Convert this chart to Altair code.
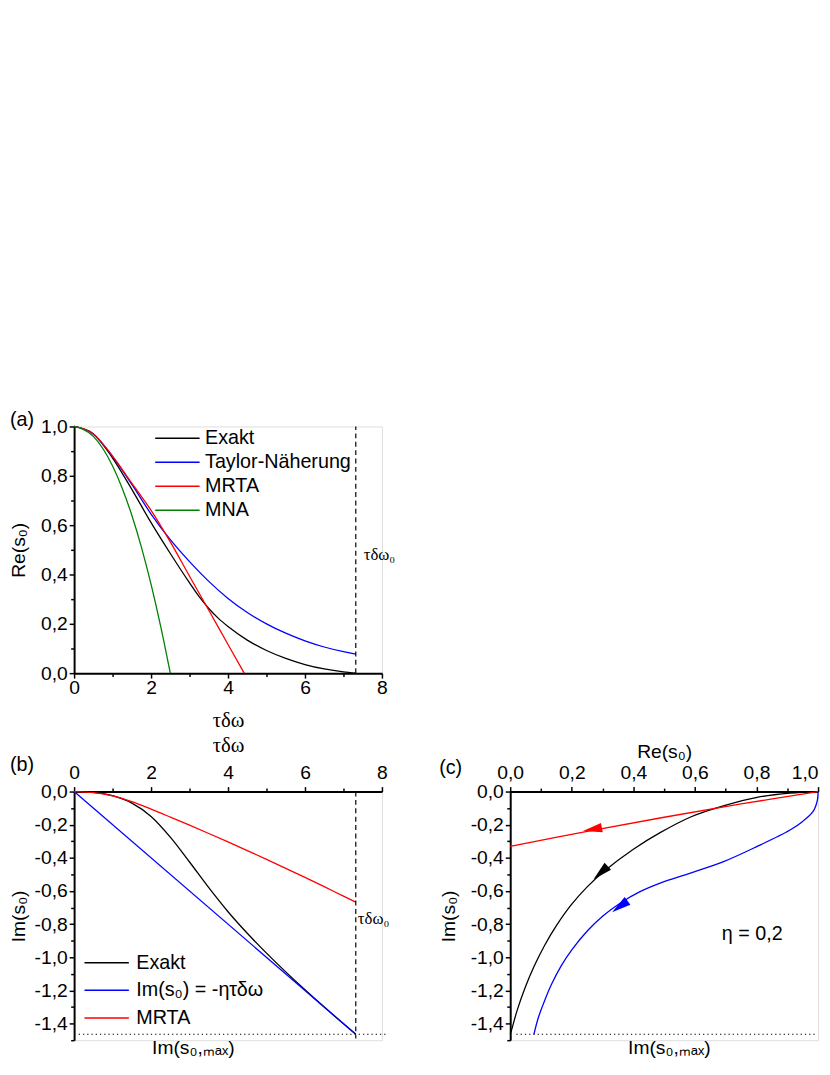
import math
import altair as alt
import pandas as pd

# ---------------- data ----------------
# Panel (a): Re(s0) versus tau*delta*omega
TDW = [0.0, 0.5, 1.0, 1.5, 2.0, 2.5, 3.0, 3.5, 4.0, 4.5, 5.0, 5.5, 6.0, 6.5, 7.0, 7.32]
TDW_EX = [0.0, 0.5, 1.0, 1.5, 2.0, 2.5, 3.0, 3.25, 3.5, 3.75, 4.0, 4.5, 5.0, 5.5, 6.0, 6.5, 7.0, 7.32]
RE_EXAKT = [1.0, 0.97, 0.872, 0.745, 0.61, 0.485, 0.366, 0.31, 0.262, 0.222, 0.189, 0.134, 0.092, 0.06, 0.035, 0.017, 0.005, 0.0]
RE_TAYLOR = [1.0, 0.97, 0.878, 0.765, 0.645, 0.541, 0.452, 0.372, 0.303, 0.246, 0.2, 0.162, 0.131, 0.106, 0.087, 0.077]
TDW_MRTA = [0.0, 0.5, 1.0, 1.5, 2.0, 2.5, 3.0, 3.5, 4.0, 4.42]
RE_MRTA = [1.0, 0.97, 0.88, 0.77, 0.66, 0.532, 0.393, 0.255, 0.116, 0.0]
TDW_MNA = [0.0, 0.5, 1.0, 1.25, 1.5, 1.75, 2.0, 2.25, 2.5]
RE_MNA = [1.0, 0.96, 0.84, 0.75, 0.64, 0.51, 0.36, 0.19, 0.0]
A_SERIES = ["Exakt", "Taylor-Näherung", "MRTA", "MNA"]
A_COLORS = ["#000000", "#0000ff", "#ff0000", "#008000"]

# Panel (b): Im(s0) versus tau*delta*omega
IM_EXAKT = [0.0, -0.005, -0.025, -0.07, -0.15, -0.275, -0.425, -0.58, -0.725, -0.855, -0.975, -1.088, -1.196, -1.3, -1.401, -1.464]
TDW_LIN = [0.0, 7.32]
IM_LIN = [0.0, -1.464]
IM_MRTA = [0.0, -0.006, -0.026, -0.061, -0.106, -0.154, -0.203, -0.253, -0.304, -0.356, -0.409, -0.463, -0.518, -0.574, -0.631, -0.667]
B_SERIES = ["Exakt", "Im(s₀) = -ητδω", "MRTA"]
B_COLORS = ["#000000", "#0000ff", "#ff0000"]

# Panel (c): Im(s0) versus Re(s0)
C_EXAKT_RE = [1.0, 0.909, 0.802, 0.695, 0.588, 0.487, 0.4, 0.305, 0.25, 0.198, 0.15, 0.112, 0.078, 0.048, 0.022, 0.005, 0.0]
C_EXAKT_IM = [0.0, -0.01, -0.035, -0.085, -0.152, -0.248, -0.348, -0.481, -0.575, -0.684, -0.809, -0.927, -1.053, -1.185, -1.323, -1.434, -1.464]
C_TAYLOR_RE = [1.0, 0.998, 0.984, 0.95, 0.909, 0.802, 0.695, 0.588, 0.487, 0.42, 0.358, 0.3, 0.251, 0.2, 0.166, 0.135, 0.112, 0.092, 0.077]
C_TAYLOR_IM = [0.0, -0.05, -0.12, -0.18, -0.232, -0.331, -0.421, -0.49, -0.552, -0.605, -0.672, -0.752, -0.84, -0.955, -1.05, -1.16, -1.26, -1.36, -1.464]
C_MRTA_RE = [1.0, 0.75, 0.5, 0.25, 0.0]
C_MRTA_IM = [0.0, -0.075, -0.155, -0.24, -0.331]
C_SERIES = ["Exakt", "Taylor", "MRTA"]
C_COLORS = ["#000000", "#0000ff", "#ff0000"]
ARROW_SERIES = ["MRTA", "Exakt", "Taylor"]
ARROW_RE = [0.267, 0.294, 0.356]
ARROW_IM = [-0.228, -0.49, -0.694]

TDW0 = 7.32
IM_MAX = -1.464
TDW0_LABEL = "τδω₀"
IMMAX_LABEL = "Im(s₀,ₘₐₓ)"
ETA_LABEL = "η = 0,2"
PANEL_LABELS = ["(a)", "(b)", "(c)"]

# tick values
A_X_TICKS = [0, 1, 2, 3, 4, 5, 6, 7, 8]
A_Y_TICKS = [0.0, 0.1, 0.2, 0.3, 0.4, 0.5, 0.6, 0.7, 0.8, 0.9, 1.0]
B_Y_TICKS = [0.0, -0.1, -0.2, -0.3, -0.4, -0.5, -0.6, -0.7, -0.8, -0.9, -1.0, -1.1, -1.2, -1.3, -1.4, -1.5]
C_X_TICKS = [0.0, 0.1, 0.2, 0.3, 0.4, 0.5, 0.6, 0.7, 0.8, 0.9, 1.0]

# ---------------- styling ----------------
FONT = "Liberation Sans"
SERIF = "Liberation Serif"
FS = 19.5
LW = 1.3
W, HA, HB = 312, 250, 252


def long_frame(parts):
    rows = []
    for name, xs, ys in parts:
        for i, (xv, yv) in enumerate(zip(xs, ys)):
            rows.append({"series": name, "x": xv, "y": yv, "i": i})
    return pd.DataFrame(rows)


IS_EVEN = "datum.value % 2 == 0"
LAB_INT = f"{IS_EVEN} ? format(datum.value, 'd') : ''"
IS_MAJOR_DEC = "abs(round(datum.value * 10)) % 2 == 0"
LAB_DEC = (f"{IS_MAJOR_DEC} ? (datum.value < -0.001 ? '-' : '') + "
           "replace(format(abs(datum.value), '.1f'), '.', ',') : ''")


def tick_size(test):
    return {"condition": {"test": test, "value": 5}, "value": 3.5}


def axis(**kw):
    base = dict(labelFont=FONT, labelFontSize=FS, labelColor="black", labelFlush=False,
                labelOverlap=False, domainColor="black", domainWidth=2, tickColor="black",
                tickWidth=1.5, grid=False, titleColor="black", titleFontWeight="normal",
                titleFontSize=FS, titleFont=FONT, labelPadding=2)
    base.update(kw)
    return alt.Axis(**base)


def legend(x, y, row_pad, label_offset):
    return alt.Legend(title=None, orient="none", legendX=x, legendY=y, direction="vertical",
                      columns=1, symbolType="M-4.5,0H4.5", symbolSize=100, symbolStrokeWidth=1.5,
                      symbolOffset=0, labelFont=FONT, labelFontSize=20, labelColor="black",
                      labelOffset=label_offset, rowPadding=row_pad, padding=0, labelLimit=400)


def panel_label(text, px, py):
    return alt.Chart(pd.DataFrame({"label": [text]})).mark_text(
        align="left", baseline="middle", font=FONT, fontSize=20, color="black"
    ).encode(x=alt.value(px), y=alt.value(py), text="label:N")


# ---------------- panel (a) ----------------
xa = alt.X("x:Q", scale=alt.Scale(domain=[0, 8], nice=False, zero=False),
           axis=axis(orient="bottom", values=A_X_TICKS, labelExpr=LAB_INT, tickSize=tick_size(IS_EVEN),
                     labelPadding=1, title="τδω", titleFont=SERIF, titleFontSize=21,
                     titleBaseline="middle", titleX=W / 2, titleY=48))
ya = alt.Y("y:Q", scale=alt.Scale(domain=[0, 1], nice=False, zero=False),
           axis=axis(values=A_Y_TICKS, labelExpr=LAB_DEC, tickSize=tick_size(IS_MAJOR_DEC),
                     title="Re(s₀)", titleBaseline="middle", titleX=-56, titleY=HA / 2))

df_a = long_frame([("Exakt", TDW_EX, RE_EXAKT), ("Taylor-Näherung", TDW, RE_TAYLOR),
                   ("MRTA", TDW_MRTA, RE_MRTA), ("MNA", TDW_MNA, RE_MNA)])
curves_a = alt.Chart(df_a).mark_line(strokeWidth=LW, interpolate="monotone").encode(
    x=xa, y=ya,
    color=alt.Color("series:N", scale=alt.Scale(domain=A_SERIES, range=A_COLORS),
                    legend=legend(94.7, 2, 4.3, 18)),
)
rule_a = alt.Chart(pd.DataFrame({"x": [TDW0], "y": [0.0], "y2": [1.0]})).mark_rule(
    color="black", strokeWidth=1.2, strokeDash=[5, 3.5]).encode(x=xa, y=ya, y2="y2:Q")
txt_a = alt.Chart(pd.DataFrame({"x": [TDW0], "y": [0.48], "label": [TDW0_LABEL]})).mark_text(
    align="left", baseline="middle", dx=8, font=SERIF, fontSize=17, color="black"
).encode(x=xa, y=ya, text="label:N")
panel_a = alt.layer(curves_a, rule_a, txt_a, panel_label(PANEL_LABELS[0], -65, -6)).properties(
    width=W, height=HA)

# ---------------- panel (b) ----------------
xb = alt.X("x:Q", scale=alt.Scale(domain=[0, 8], nice=False, zero=False),
           axis=axis(orient="top", values=A_X_TICKS, labelExpr=LAB_INT, tickSize=tick_size(IS_EVEN),
                     labelPadding=4, title="τδω", titleFont=SERIF, titleFontSize=21,
                     titleBaseline="middle", titleX=W / 2, titleY=-47))
yb = alt.Y("y:Q", scale=alt.Scale(domain=[-1.5, 0], nice=False, zero=False),
           axis=axis(values=B_Y_TICKS, labelExpr=LAB_DEC, tickSize=tick_size(IS_MAJOR_DEC),
                     title="Im(s₀)", titleBaseline="middle", titleX=-56, titleY=HB / 2))

df_b = long_frame([("Exakt", TDW, IM_EXAKT), ("Im(s₀) = -ητδω", TDW_LIN, IM_LIN),
                   ("MRTA", TDW, IM_MRTA)])
curves_b = alt.Chart(df_b).mark_line(strokeWidth=LW, interpolate="monotone").encode(
    x=xb, y=yb,
    color=alt.Color("series:N", scale=alt.Scale(domain=B_SERIES, range=B_COLORS),
                    legend=legend(23, 163.4, 8, 20)),
)
rule_b = alt.Chart(pd.DataFrame({"x": [TDW0], "y": [0.0], "y2": [-1.49]})).mark_rule(
    color="black", strokeWidth=1.2, strokeDash=[5, 3.5]).encode(x=xb, y=yb, y2="y2:Q")
dot_b = alt.Chart(pd.DataFrame({"x": [0.12], "x2": [8.15], "y": [IM_MAX]})).mark_rule(
    color="black", strokeWidth=1.2, strokeDash=[1.3, 3]).encode(x=xb, x2="x2:Q", y=yb)
txt_b = alt.Chart(pd.DataFrame({"x": [TDW0], "y": [-0.77], "label": [TDW0_LABEL]})).mark_text(
    align="left", baseline="middle", dx=2, font=SERIF, fontSize=17, color="black"
).encode(x=xb, y=yb, text="label:N")
max_b = alt.Chart(pd.DataFrame({"x": [3.1], "y": [-1.547], "label": [IMMAX_LABEL]})).mark_text(
    align="center", baseline="middle", font=FONT, fontSize=FS, color="black"
).encode(x=xb, y=yb, text="label:N")
panel_b = alt.layer(curves_b, rule_b, dot_b, txt_b, max_b,
                    panel_label(PANEL_LABELS[1], -65, -27)).properties(width=W, height=HB)

# ---------------- panel (c) ----------------
xc = alt.X("x:Q", scale=alt.Scale(domain=[0, 1], nice=False, zero=False),
           axis=axis(orient="top", values=C_X_TICKS, labelExpr=LAB_DEC, tickSize=tick_size(IS_MAJOR_DEC),
                     labelPadding=4,
                     labelAlign={"condition": {"test": "datum.value > 0.99", "value": "right"},
                                 "value": "center"},
                     title="Re(s₀)", titleBaseline="middle", titleX=W / 2, titleY=-41))
yc = alt.Y("y:Q", scale=alt.Scale(domain=[-1.5, 0], nice=False, zero=False),
           axis=axis(values=B_Y_TICKS, labelExpr=LAB_DEC, tickSize=tick_size(IS_MAJOR_DEC),
                     title="Im(s₀)", titleBaseline="middle", titleX=-62, titleY=HB / 2))
color_c = alt.Color("series:N", scale=alt.Scale(domain=C_SERIES, range=C_COLORS), legend=None)

df_c = long_frame([("Exakt", C_EXAKT_RE, C_EXAKT_IM), ("Taylor", C_TAYLOR_RE, C_TAYLOR_IM),
                   ("MRTA", C_MRTA_RE, C_MRTA_IM)])
curves_c = alt.Chart(df_c).mark_line(strokeWidth=LW, interpolate="catmull-rom").encode(
    x=xc, y=yc, color=color_c, order=alt.Order("i:Q"))

PX_RE = W / 1.0
PX_IM = HB / 1.5
CURVES_C = {"Exakt": (C_EXAKT_RE, C_EXAKT_IM), "Taylor": (C_TAYLOR_RE, C_TAYLOR_IM),
            "MRTA": (C_MRTA_RE, C_MRTA_IM)}


def heading(name, re0):
    res, ims = CURVES_C[name]
    for k in range(len(res) - 1):
        if res[k] >= re0 >= res[k + 1]:
            dx = (res[k + 1] - res[k]) * PX_RE
            dy = -(ims[k + 1] - ims[k]) * PX_IM
            return math.degrees(math.atan2(dx, -dy)) % 360
    return 270.0


df_arrows = pd.DataFrame({"series": ARROW_SERIES, "x": ARROW_RE, "y": ARROW_IM})
df_arrows["ang"] = [heading(s, r) for s, r in zip(ARROW_SERIES, ARROW_RE)]
arrows_c = alt.Chart(df_arrows).mark_point(
    shape="M0,-1L0.5,1L-0.5,1Z", filled=True, size=380, opacity=1, strokeWidth=0
).encode(x=xc, y=yc, color=color_c, angle=alt.Angle("ang:Q", scale=None))

dot_c = alt.Chart(pd.DataFrame({"x": [0.02], "x2": [0.99], "y": [IM_MAX]})).mark_rule(
    color="black", strokeWidth=1.2, strokeDash=[1.3, 3]).encode(x=xc, x2="x2:Q", y=yc)
eta_c = alt.Chart(pd.DataFrame({"x": [0.786], "y": [-0.86], "label": [ETA_LABEL]})).mark_text(
    align="center", baseline="middle", font=FONT, fontSize=20, color="black"
).encode(x=xc, y=yc, text="label:N")
max_c = alt.Chart(pd.DataFrame({"x": [0.517], "y": [-1.547], "label": [IMMAX_LABEL]})).mark_text(
    align="center", baseline="middle", font=FONT, fontSize=FS, color="black"
).encode(x=xc, y=yc, text="label:N")
panel_c = alt.layer(curves_c, arrows_c, dot_c, eta_c, max_c,
                    panel_label(PANEL_LABELS[2], -72, -24)).properties(width=W, height=HB)

# ---------------- layout ----------------
spacer = alt.Chart(pd.DataFrame({"v": [0]})).mark_point(opacity=0).properties(width=1, height=1)

chart = alt.concat(
    panel_a, spacer, panel_b, panel_c, columns=2,
    spacing=alt.RowColnumber(row=120, column=130), bounds="flush", align="each",
).resolve_scale(color="independent").resolve_legend(color="independent").properties(
    padding={"left": 0, "top": 400, "right": 0, "bottom": 0}
).configure_view(strokeWidth=0).configure(font=FONT)

chart.save("out.html", embed_options={"renderer": "svg", "actions": False})
